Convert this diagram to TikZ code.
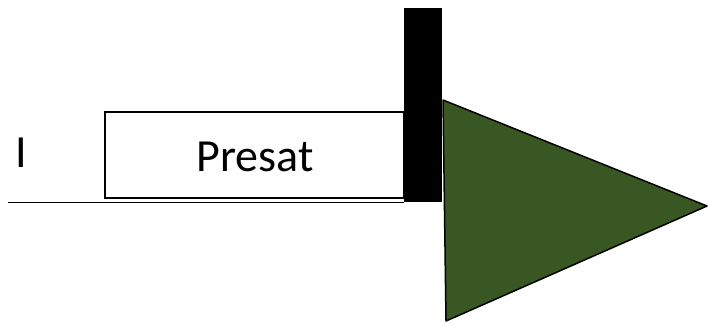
\documentclass[tikz,border=0pt]{standalone}
\usepackage{fontspec}
\setmainfont{Carlito}
\definecolor{pulsegreen}{RGB}{56,87,35}
\begin{document}
\begin{tikzpicture}[x=1pt,y=-1pt,
  lbl/.style={font=\fontsize{46}{50}\selectfont, inner sep=0pt, anchor=base},
  presatbox/.style={draw=black, line width=1.5pt, fill=white},
  gradbar/.style={fill=black},
  pulse/.style={draw=black, line width=1.5pt, fill=pulsegreen, line join=round}]
  \useasboundingbox (0,0) rectangle (708,322);
  % baseline of the sequence
  \coordinate (axisL) at (8,202);
  \coordinate (axisR) at (404,202);
  \draw[line width=1pt] (axisL) -- (axisR);
  % presaturation block
  \draw[presatbox] (105,112) rectangle (404,198);
  \node[lbl] (presat) at (255,171) {Presat};
  % channel label
  \node[lbl] (chan) at (21,167) {I};
  % crusher gradient bar
  \fill[gradbar] (404,8) rectangle (442,202);
  % excitation pulse
  \draw[pulse] (443,100) -- (707,206) -- (446,321) -- cycle;
\end{tikzpicture}
\end{document}
